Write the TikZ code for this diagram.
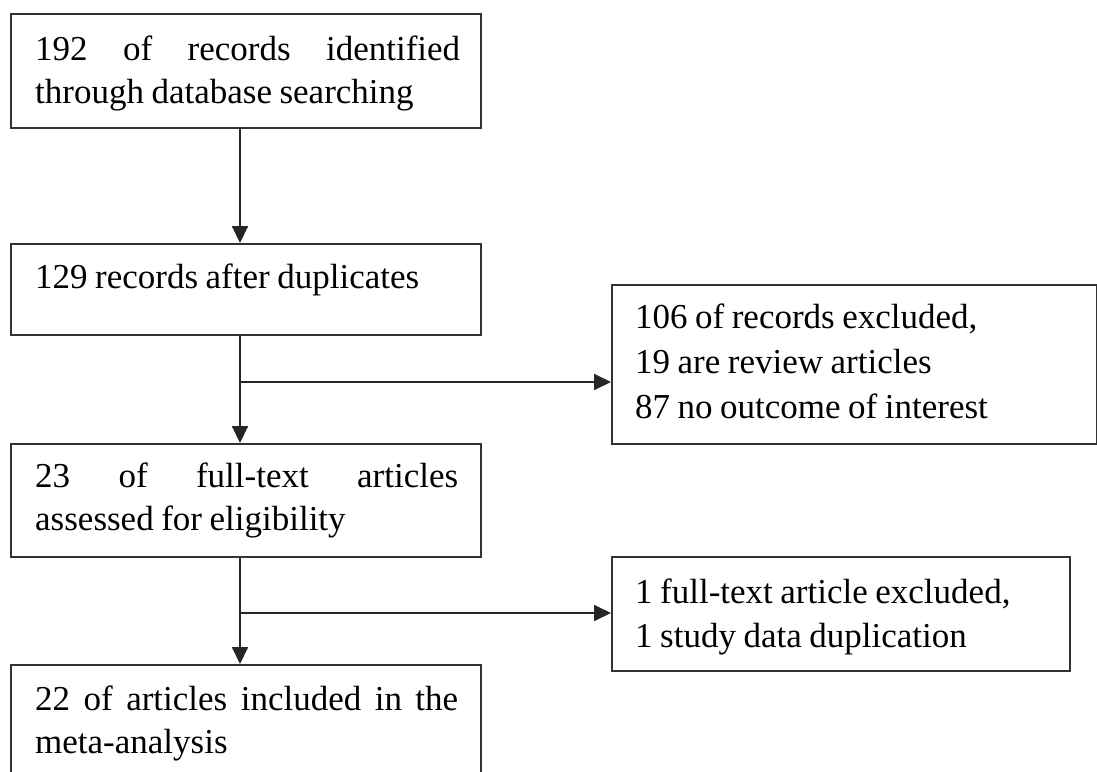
\documentclass[tikz,border=0pt]{standalone}
\usepackage{fontspec}
\setmainfont{Liberation Serif}
\usetikzlibrary{arrows.meta,calc}
\begin{document}
\begin{tikzpicture}[x=1pt,y=-1pt,
  boxnode/.style={draw=black!80, line width=1.9pt, rectangle, inner sep=0pt, anchor=north west},
  txt/.style={anchor=base west, inner sep=0pt, font=\fontsize{35}{43}\selectfont, align=left,
    execute at begin node={\spaceskip=7.5pt plus 4pt minus 1pt\relax}},
  arr/.style={draw=black!85, line width=1.9pt, -{Triangle[length=17pt,width=16pt]}}]
\useasboundingbox (0,0) rectangle (1097,771);
\clip (0,0) rectangle (1097,771);
% boxes
\node[boxnode, minimum width=470pt, minimum height=114pt] (b1) at (10,13) {};
\node[boxnode, minimum width=470pt, minimum height=91pt] (b2) at (10,243) {};
\node[boxnode, minimum width=485pt, minimum height=159pt] (b3) at (611,284) {};
\node[boxnode, minimum width=470pt, minimum height=113pt] (b4) at (10,443) {};
\node[boxnode, minimum width=458pt, minimum height=114pt] (b5) at (611,556) {};
\node[boxnode, minimum width=470pt, minimum height=140pt] (b6) at (10,664) {};
% texts
\node[txt, text width=425pt] (t1) at (35,60) {192\hfill of\hfill records\hfill identified\\through database searching};
\node[txt, text width=425pt] (t2) at (35,288) {129 records after duplicates};
\node[txt, text width=440pt, font=\fontsize{35}{45}\selectfont] (t3) at (635,328) {106 of records excluded,\\19 are review articles\\87 no outcome of interest};
\node[txt, text width=423pt] (t4) at (35,487) {23\hfill of\hfill full-text\hfill articles\\assessed for eligibility};
\node[txt, text width=420pt, font=\fontsize{35}{44}\selectfont] (t5) at (635,603) {1 full-text article excluded,\\1 study data duplication};
\node[txt, text width=423pt] (t6) at (35,710) {22\hfill of\hfill articles\hfill included\hfill in\hfill the\\meta-analysis};
% connectors
\coordinate (vx) at (240,0);
\coordinate (j1) at (240,382);
\coordinate (j2) at (240,613);
\draw[arr] (b1.south -| vx) -- (b2.north -| vx);
\draw[arr] (b2.south -| vx) -- (b4.north -| vx);
\draw[arr] (j1) -- (j1 -| b3.west);
\draw[arr] (b4.south -| vx) -- (b6.north -| vx);
\draw[arr] (j2) -- (j2 -| b5.west);
\end{tikzpicture}
\end{document}
